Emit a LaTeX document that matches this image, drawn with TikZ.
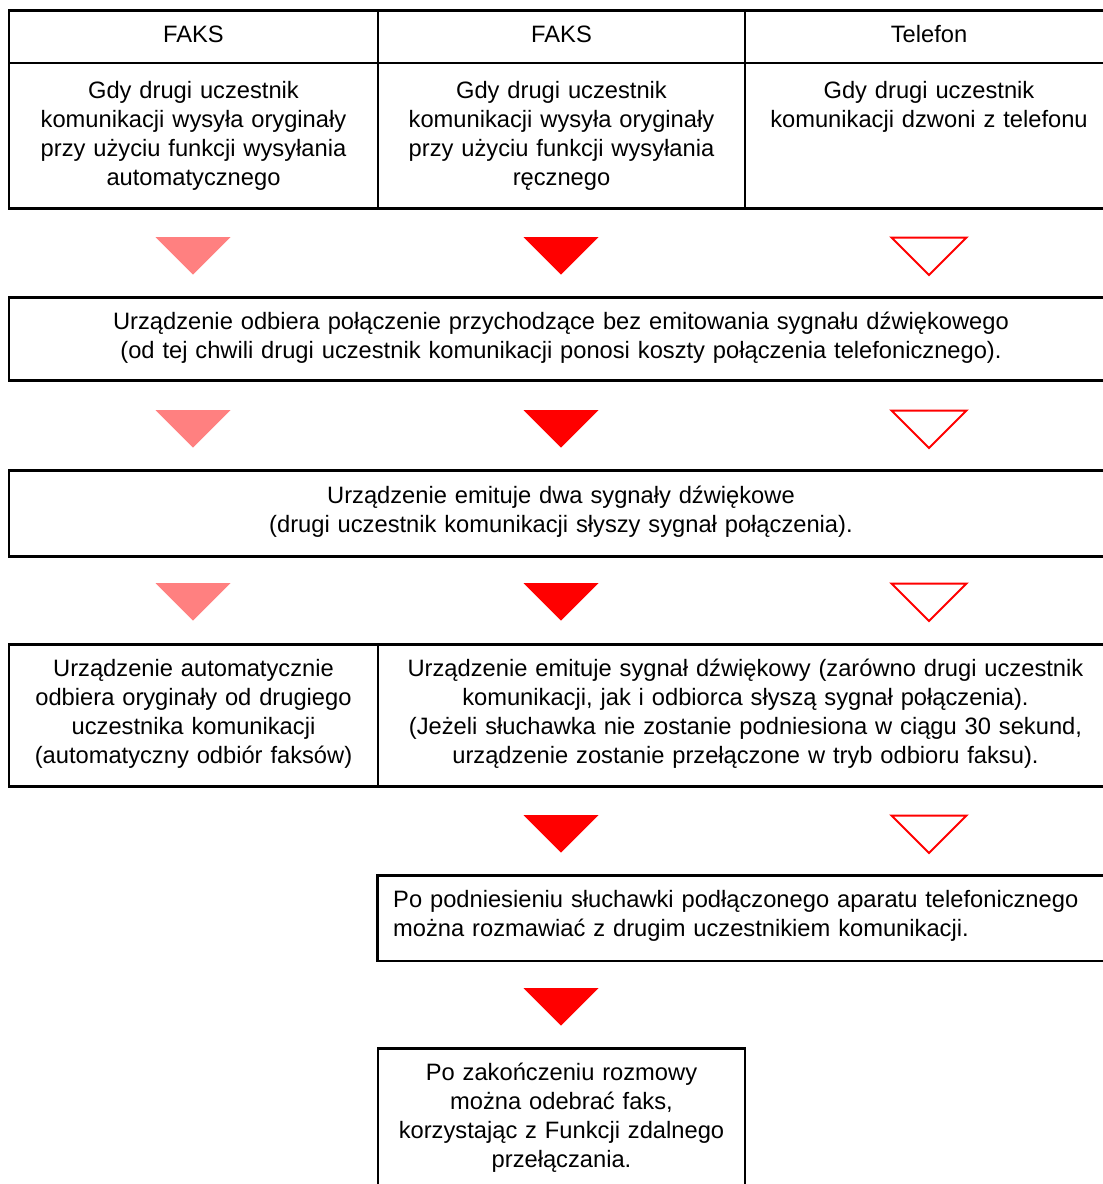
\documentclass[tikz,border=0pt]{standalone}
\usepackage{fontspec}
\setmainfont{Liberation Sans}
\definecolor{pinkc}{HTML}{FF8080}
\definecolor{redc}{HTML}{FF0000}
\newcommand{\downtri}[3]{\path[#3] ({#1-37.5},{#2}) -- ({#1+37.5},{#2}) -- ({#1},{#2+37.5}) -- cycle;}
\begin{document}
\begin{tikzpicture}[x=1pt,y=-1pt,
  cell/.style={draw, line width=2.8pt, inner sep=0pt, outer sep=0pt, anchor=north west},
  txt/.style={font=\fontsize{23.7}{29}\selectfont, align=center, inner sep=0pt, anchor=base, text width=#1},
  txt/.default=360pt,
  tripink/.style={fill=pinkc},
  trired/.style={fill=redc},
  triout/.style={draw=redc, line width=2pt, fill=white},
  ]
\useasboundingbox (0,0) rectangle (1103,1184);
\clip (0,0) rectangle (1103,1184);

% row 1: header cells
\node[cell, minimum width=369pt, minimum height=52.5pt] (h1) at (9,10.5) {};
\node[cell, minimum width=367pt, minimum height=52.5pt] (h2) at (378,10.5) {};
\node[cell, minimum width=368pt, minimum height=52.5pt] (h3) at (745,10.5) {};
\node[cell, minimum width=369pt, minimum height=145.5pt] (c1) at (9,63) {};
\node[cell, minimum width=367pt, minimum height=145.5pt] (c2) at (378,63) {};
\node[cell, minimum width=368pt, minimum height=145.5pt] (c3) at (745,63) {};

\node[txt] (th1) at (193.5,42.5) {FAKS};
\node[txt] (th2) at (561.5,42.5) {FAKS};
\node[txt] (th3) at (929,42.5) {Telefon};
\node[txt] (tc1) at (193.5,98.8) {Gdy drugi uczestnik\\komunikacji wysyła oryginały\\przy użyciu funkcji wysyłania\\automatycznego};
\node[txt] (tc2) at (561.5,98.8) {Gdy drugi uczestnik\\komunikacji wysyła oryginały\\przy użyciu funkcji wysyłania\\ręcznego};
\node[txt] (tc3) at (929,98.8) {Gdy drugi uczestnik\\komunikacji dzwoni z telefonu};

% triangles row 1
\downtri{193}{237}{tripink}
\downtri{561}{237}{trired}
\downtri{929}{237.5}{triout}

% box 2
\node[cell, minimum width=1104pt, minimum height=83pt] (b2) at (9,297.5) {};
\node[txt=1050pt] (tb2) at (561,329) {Urządzenie odbiera połączenie przychodzące bez emitowania sygnału dźwiękowego\\(od tej chwili drugi uczestnik komunikacji ponosi koszty połączenia telefonicznego).};

% triangles row 2
\downtri{193}{410}{tripink}
\downtri{561}{410}{trired}
\downtri{929}{410.5}{triout}

% box 3
\node[cell, minimum width=1104pt, minimum height=86pt] (b3) at (9,470.5) {};
\node[txt=1050pt] (tb3) at (561,503) {Urządzenie emituje dwa sygnały dźwiękowe\\(drugi uczestnik komunikacji słyszy sygnał połączenia).};

% triangles row 3
\downtri{193}{583}{tripink}
\downtri{561}{583}{trired}
\downtri{929}{583.5}{triout}

% box 4
\node[cell, minimum width=369pt, minimum height=142pt] (b4a) at (9,644.5) {};
\node[cell, minimum width=735pt, minimum height=142pt] (b4b) at (378,644.5) {};
\node[txt] (tb4a) at (193.5,676) {Urządzenie automatycznie\\odbiera oryginały od drugiego\\uczestnika komunikacji\\(automatyczny odbiór faksów)};
\node[txt=720pt] (tb4b) at (745.5,676) {Urządzenie emituje sygnał dźwiękowy (zarówno drugi uczestnik\\komunikacji, jak i odbiorca słyszą sygnał połączenia).\\(Jeżeli słuchawka nie zostanie podniesiona w ciągu 30 sekund,\\urządzenie zostanie przełączone w tryb odbioru faksu).};

% triangles row 4
\downtri{561}{815}{trired}
\downtri{929}{815.5}{triout}

% box 5
\node[cell, minimum width=735.5pt, minimum height=85.7pt] (b5) at (377.5,875.3) {};
\node[txt=710pt, align=left, anchor=base west] (tb5) at (393,907.5) {Po podniesieniu słuchawki podłączonego aparatu telefonicznego\\można rozmawiać z drugim uczestnikiem komunikacji.};

% triangle row 5
\downtri{561}{988}{trired}

% box 6
\node[cell, minimum width=367pt, minimum height=160pt] (b6) at (378,1048.5) {};
\node[txt] (tb6) at (561.5,1080.5) {Po zakończeniu rozmowy\\można odebrać faks,\\korzystając z Funkcji zdalnego\\przełączania.};
\end{tikzpicture}
\end{document}
